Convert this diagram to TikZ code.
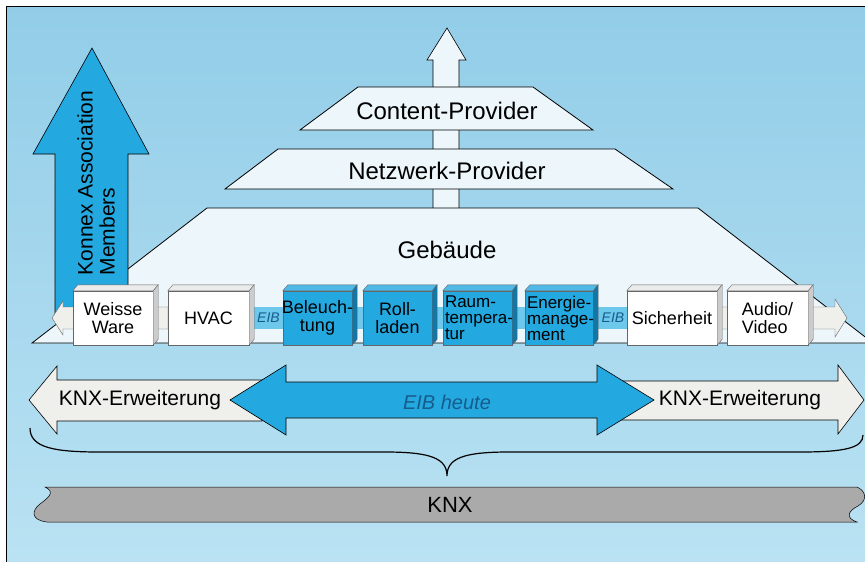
\documentclass[tikz,border=0pt]{standalone}
\usepackage{fontspec}
\setmainfont{Liberation Sans}
\definecolor{skytop}{RGB}{146,205,232}
\definecolor{skylow}{RGB}{186,226,243}
\definecolor{eibblue}{RGB}{36,168,224}
\definecolor{eibdark}{RGB}{20,118,165}
\definecolor{eibband}{RGB}{110,200,236}
\definecolor{paleface}{RGB}{236,246,251}
\definecolor{pipewhite}{RGB}{239,239,236}
\definecolor{knxgrey}{RGB}{170,170,170}
\definecolor{eibtext}{RGB}{22,92,140}
\tikzset{
  layer/.style={draw=black,line width=0.8pt,fill=paleface},
  fat/.style={draw=black,line width=0.6pt,fill=#1},
  unit/.style={draw=black!60,line width=0.4pt,inner sep=0pt,minimum height=54},
  facet/.style={draw=black!60,line width=0.4pt},
  biglbl/.style={inner sep=0pt,font=\fontsize{24}{28}\selectfont},
  lbl/.style={inner sep=0pt,align=center,font=\fontsize{18}{18}\selectfont},
  tightlbl/.style={inner sep=0pt,align=left,anchor=west,font=\fontsize{17}{16}\selectfont},
  eiblbl/.style={inner sep=0pt,text=eibtext,font=\fontsize{14}{16}\selectfont\itshape},
  extlbl/.style={inner sep=0pt,font=\fontsize{21}{24}\selectfont}
}
\begin{document}
\begin{tikzpicture}[x=1pt,y=-1pt]
    \useasboundingbox (0,0) rectangle (865,562);
    \shade[top color=skytop,bottom color=skylow] (7,7) rectangle (865,562);
    \draw[line width=1pt] (6.5,562) -- (6.5,6.5) -- (865,6.5);
    \draw[fat=paleface] (433,210) -- (433,60) -- (427,60) -- (447,28) -- (466,60) -- (459,60) -- (459,210) -- cycle;
    \draw[layer] (300,130) -- (358,87) -- (533,87) -- (593,130) -- cycle;
    \draw[layer] (225,189) -- (278,149) -- (615,149) -- (673,189) -- cycle;
    \draw[layer] (32,343) -- (207,208) -- (698,208) -- (873,343) -- cycle;
    \node[biglbl] (content) at (447,111) {Content-Provider};
    \node[biglbl] (netz) at (447,171) {Netzwerk-Provider};
    \node[biglbl] (geb) at (447,250) {Gebäude};
    \draw[fat=eibblue] (55,318) -- (55,154) -- (33,154) -- (92,48) -- (149,154) -- (128,154) -- (128,318);
    \node[rotate=90,align=left,inner sep=0pt,font=\fontsize{21}{22}\selectfont] (konnex) at (96,183) {Konnex Association\\Members};
    \fill[eibband] (249,307) rectangle (627,329);
    \draw[fat=pipewhite,draw=black!60,line width=0.4pt] (168,307) -- (63,307) -- (63,301) -- (52,318) -- (63,335) -- (63,329) -- (168,329) -- cycle;
    \draw[fat=pipewhite,draw=black!60,line width=0.4pt] (717,307) -- (835,307) -- (835,299) -- (847,318) -- (835,337) -- (835,329) -- (717,329) -- cycle;
    \foreach \nm/\cx/\w/\fc/\tc/\sc in {ww/113/80/white/black!8/black!20, hvac/208.5/81/white/black!8/black!20, bel/317.5/69/eibblue/eibblue!80!white/eibdark, roll/397.5/69/eibblue/eibblue!80!white/eibdark, raum/477.5/69/eibblue/eibblue!80!white/eibdark, ener/559/68/eibblue/eibblue!80!white/eibdark, sich/672/90/white/black!8/black!20, av/767.5/81/white/black!8/black!20}{
      \node[unit,fill=\fc,minimum width=\w] (\nm) at (\cx,318) {};
      \draw[facet,fill=\tc] (\nm.north west) -- ++(5,-6) -- ([shift={(5,-6)}]\nm.north east) -- (\nm.north east) -- cycle;
      \draw[facet,fill=\sc] (\nm.north east) -- ++(5,-6) -- ([shift={(5,-6)}]\nm.south east) -- (\nm.south east) -- cycle;
    }
    \node[lbl] (wwtext) at (ww) {Weisse\\Ware};
    \node[lbl] (hvactext) at (hvac) {HVAC};
    \node[lbl] (beltext) at (bel) {Beleuch-\\tung};
    \node[lbl] (rolltext) at (roll) {Roll-\\laden};
    \node[tightlbl] (raumtext) at ([xshift=2]raum.west) {Raum-\\tempera-\\tur};
    \node[tightlbl] (enertext) at ([xshift=2]ener.west) {Energie-\\manage-\\ment};
    \node[lbl] (sichtext) at (sich) {Sicherheit};
    \node[lbl,align=left] (avtext) at (av) {Audio/\\Video};
    \node[eiblbl] (eibl) at (268.5,318) {EIB};
    \node[eiblbl] (eibr) at (613,318) {EIB};
    \draw[fat=pipewhite] (262,380) -- (57,380) -- (57,366) -- (29,400) -- (57,434) -- (57,421) -- (262,421) -- cycle;
    \draw[fat=pipewhite] (620,381) -- (838,381) -- (838,365) -- (864,400) -- (838,434) -- (838,420) -- (620,420) -- cycle;
    \draw[fat=eibblue] (230,400) -- (286,365) -- (286,382) -- (597,382) -- (597,365) -- (654,400) -- (597,435) -- (597,418) -- (286,418) -- (286,435) -- cycle;
    \node[extlbl] (extleft) at (140,400) {KNX-Erweiterung};
    \node[extlbl] (extright) at (740,400) {KNX-Erweiterung};
    \node[extlbl,text=eibtext,font=\fontsize{20}{24}\selectfont\itshape] (heute) at (447,402) {EIB heute};
    \draw[line width=1.2pt] (30,428) .. controls (30,448) and (55,452) .. (100,452) -- (385,452) .. controls (430,452) and (447,458) .. (447,476) .. controls (447,458) and (464,452) .. (509,452) -- (800,452) .. controls (845,452) and (863,448) .. (863,435);
    \draw[fat=knxgrey,line width=0.5pt] (47,522) .. controls (30,520) and (32,510) .. (40,504) .. controls (48,498) and (56,492) .. (45,487) -- (857,487) .. controls (866,491) and (868,500) .. (858,506) .. controls (848,511) and (845,518) .. (857,522) -- cycle;
    \node[extlbl,font=\fontsize{22}{24}\selectfont] (knx) at (450,505) {KNX};
\end{tikzpicture}
\end{document}
